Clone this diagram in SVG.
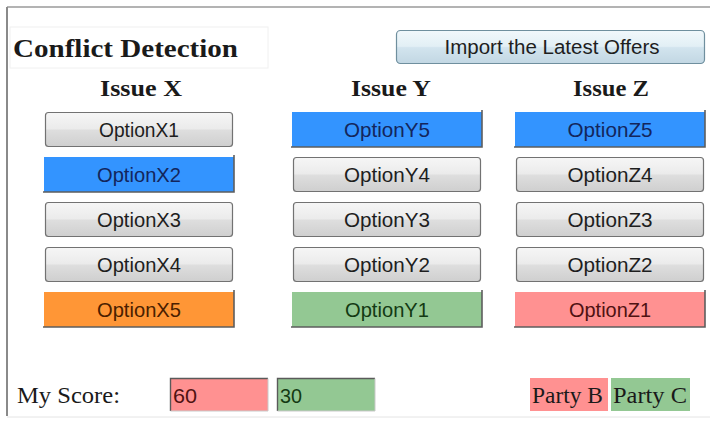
<svg xmlns="http://www.w3.org/2000/svg" width="710" height="425" viewBox="0 0 710 425">
  <defs>
    <linearGradient id="gray-btn" x1="0" y1="0" x2="0" y2="1">
      <stop offset="0" stop-color="#f6f6f6"/>
      <stop offset="0.48" stop-color="#ebebeb"/>
      <stop offset="0.52" stop-color="#dedede"/>
      <stop offset="1" stop-color="#cfcfcf"/>
    </linearGradient>
    <linearGradient id="import-btn" x1="0" y1="0" x2="0" y2="1">
      <stop offset="0" stop-color="#f1f8fb"/>
      <stop offset="0.48" stop-color="#e2eff5"/>
      <stop offset="0.52" stop-color="#d2e4ee"/>
      <stop offset="1" stop-color="#c2d7e3"/>
    </linearGradient>
  </defs>
  <style>
    .serif { font-family: "Liberation Serif", "Times New Roman", serif; fill: #1a1a1a; }
    .bold { font-weight: bold; }
    .sans { font-family: "Liberation Sans", Arial, sans-serif; }
    .opt { font-size: 21px; text-anchor: middle; }
    .gbtn { fill: url(#gray-btn); stroke: #727272; stroke-width: 1.2; }
    .edge { fill: none; stroke: #5e5e5e; stroke-width: 1.6; }
    .blue { fill: #3394ff; }
    .orange { fill: #ff9636; }
    .green { fill: #93c893; }
    .pink { fill: #ff9191; }
    .t-gray { fill: #1e1e1e; }
    .t-blue { fill: #13265c; }
    .t-orange { fill: #4a1e00; }
    .t-green { fill: #133a13; }
    .t-pink { fill: #4f1212; }
  </style>

  <rect x="0" y="0" width="710" height="425" fill="#ffffff"/>

  <!-- panel frame -->
  <line x1="7" y1="7" x2="710" y2="7" stroke="#9a9a9a" stroke-width="1.5"/>
  <line x1="7" y1="7" x2="7" y2="416" stroke="#8a8a8a" stroke-width="2"/>
  <line x1="7" y1="417" x2="710" y2="417" stroke="#e4e4e4" stroke-width="1"/>

  <!-- title -->
  <g id="title">
    <rect x="10" y="27" width="258" height="41" fill="none" stroke="#f0f0f0" stroke-width="1"/>
    <text class="serif bold" x="13" y="57" font-size="26" textLength="225" lengthAdjust="spacingAndGlyphs">Conflict Detection</text>
  </g>

  <!-- import button -->
  <g id="import">
    <rect x="396.5" y="30.5" width="308" height="33" rx="4" fill="url(#import-btn)" stroke="#6f8f9e" stroke-width="1.2"/>
    <text class="sans" x="552" y="54" font-size="19.5" fill="#1e1e1e" text-anchor="middle" textLength="215" lengthAdjust="spacingAndGlyphs">Import the Latest Offers</text>
  </g>

  <!-- issue headers -->
  <g id="issue-x"><text class="serif bold" x="141" y="96" font-size="24" text-anchor="middle" textLength="82" lengthAdjust="spacingAndGlyphs">Issue X</text></g>
  <g id="issue-y"><text class="serif bold" x="391" y="96" font-size="24" text-anchor="middle" textLength="80" lengthAdjust="spacingAndGlyphs">Issue Y</text></g>
  <g id="issue-z"><text class="serif bold" x="611" y="96" font-size="24" text-anchor="middle" textLength="76" lengthAdjust="spacingAndGlyphs">Issue Z</text></g>

  <!-- Issue X options -->
  <g id="optionX1"><rect class="gbtn" x="45.5" y="112.5" width="187" height="34" rx="3"/><text class="sans opt t-gray" x="139" y="137" textLength="80" lengthAdjust="spacingAndGlyphs">OptionX1</text></g>
  <g id="optionX2"><rect class="blue" x="44" y="157" width="190" height="35"/><polyline class="edge" points="234,155 234,192 43,192"/><text class="sans opt t-blue" x="139" y="182" textLength="84" lengthAdjust="spacingAndGlyphs">OptionX2</text></g>
  <g id="optionX3"><rect class="gbtn" x="45.5" y="202.5" width="187" height="34" rx="3"/><text class="sans opt t-gray" x="139" y="227" textLength="84" lengthAdjust="spacingAndGlyphs">OptionX3</text></g>
  <g id="optionX4"><rect class="gbtn" x="45.5" y="247.5" width="187" height="34" rx="3"/><text class="sans opt t-gray" x="139" y="272" textLength="84" lengthAdjust="spacingAndGlyphs">OptionX4</text></g>
  <g id="optionX5"><rect class="orange" x="44" y="292" width="190" height="35"/><polyline class="edge" points="234,290 234,327 43,327"/><text class="sans opt t-orange" x="139" y="317" textLength="84" lengthAdjust="spacingAndGlyphs">OptionX5</text></g>

  <!-- Issue Y options -->
  <g id="optionY5"><rect class="blue" x="292" y="112" width="190" height="35"/><polyline class="edge" points="482,110 482,147 291,147"/><text class="sans opt t-blue" x="387" y="137" textLength="86" lengthAdjust="spacingAndGlyphs">OptionY5</text></g>
  <g id="optionY4"><rect class="gbtn" x="293.5" y="157.5" width="187" height="34" rx="3"/><text class="sans opt t-gray" x="387" y="182" textLength="86" lengthAdjust="spacingAndGlyphs">OptionY4</text></g>
  <g id="optionY3"><rect class="gbtn" x="293.5" y="202.5" width="187" height="34" rx="3"/><text class="sans opt t-gray" x="387" y="227" textLength="86" lengthAdjust="spacingAndGlyphs">OptionY3</text></g>
  <g id="optionY2"><rect class="gbtn" x="293.5" y="247.5" width="187" height="34" rx="3"/><text class="sans opt t-gray" x="387" y="272" textLength="86" lengthAdjust="spacingAndGlyphs">OptionY2</text></g>
  <g id="optionY1"><rect class="green" x="292" y="292" width="190" height="35"/><polyline class="edge" points="482,290 482,327 291,327"/><text class="sans opt t-green" x="387" y="317" textLength="84" lengthAdjust="spacingAndGlyphs">OptionY1</text></g>

  <!-- Issue Z options -->
  <g id="optionZ5"><rect class="blue" x="515" y="112" width="190" height="35"/><polyline class="edge" points="705,110 705,147 514,147"/><text class="sans opt t-blue" x="610" y="137" textLength="85" lengthAdjust="spacingAndGlyphs">OptionZ5</text></g>
  <g id="optionZ4"><rect class="gbtn" x="516.5" y="157.5" width="187" height="34" rx="3"/><text class="sans opt t-gray" x="610" y="182" textLength="85" lengthAdjust="spacingAndGlyphs">OptionZ4</text></g>
  <g id="optionZ3"><rect class="gbtn" x="516.5" y="202.5" width="187" height="34" rx="3"/><text class="sans opt t-gray" x="610" y="227" textLength="85" lengthAdjust="spacingAndGlyphs">OptionZ3</text></g>
  <g id="optionZ2"><rect class="gbtn" x="516.5" y="247.5" width="187" height="34" rx="3"/><text class="sans opt t-gray" x="610" y="272" textLength="85" lengthAdjust="spacingAndGlyphs">OptionZ2</text></g>
  <g id="optionZ1"><rect class="pink" x="515" y="292" width="190" height="35"/><polyline class="edge" points="705,290 705,327 514,327"/><text class="sans opt t-pink" x="610" y="317" textLength="82" lengthAdjust="spacingAndGlyphs">OptionZ1</text></g>

  <!-- score row -->
  <g id="my-score">
    <text class="serif" x="17" y="403" font-size="24" textLength="103" lengthAdjust="spacingAndGlyphs">My Score:</text>
  </g>
  <g id="score-b">
    <rect class="pink" x="170" y="378" width="98" height="33"/>
    <polyline points="170.5,411 170.5,378.5 268,378.5" fill="none" stroke="#5a5a5a" stroke-width="1.4"/>
    <polyline points="268,378.5 268,411 170.5,411" fill="none" stroke="#c9c9c9" stroke-width="1"/>
    <text class="sans t-pink" x="173" y="403" font-size="20" textLength="24" lengthAdjust="spacingAndGlyphs">60</text>
  </g>
  <g id="score-c">
    <rect class="green" x="277" y="378" width="98" height="33"/>
    <polyline points="277.5,411 277.5,378.5 375,378.5" fill="none" stroke="#5a5a5a" stroke-width="1.4"/>
    <polyline points="375,378.5 375,411 277.5,411" fill="none" stroke="#c9c9c9" stroke-width="1"/>
    <text class="sans t-green" x="280" y="403" font-size="20" textLength="22" lengthAdjust="spacingAndGlyphs">30</text>
  </g>

  <!-- legend -->
  <g id="party-b">
    <rect class="pink" x="530" y="378" width="78" height="33"/>
    <text class="serif" x="532" y="403" font-size="24" textLength="71" lengthAdjust="spacingAndGlyphs">Party B</text>
  </g>
  <g id="party-c">
    <rect class="green" x="611" y="378" width="79" height="33"/>
    <text class="serif" x="613" y="403" font-size="24" textLength="74" lengthAdjust="spacingAndGlyphs">Party C</text>
  </g>
</svg>
